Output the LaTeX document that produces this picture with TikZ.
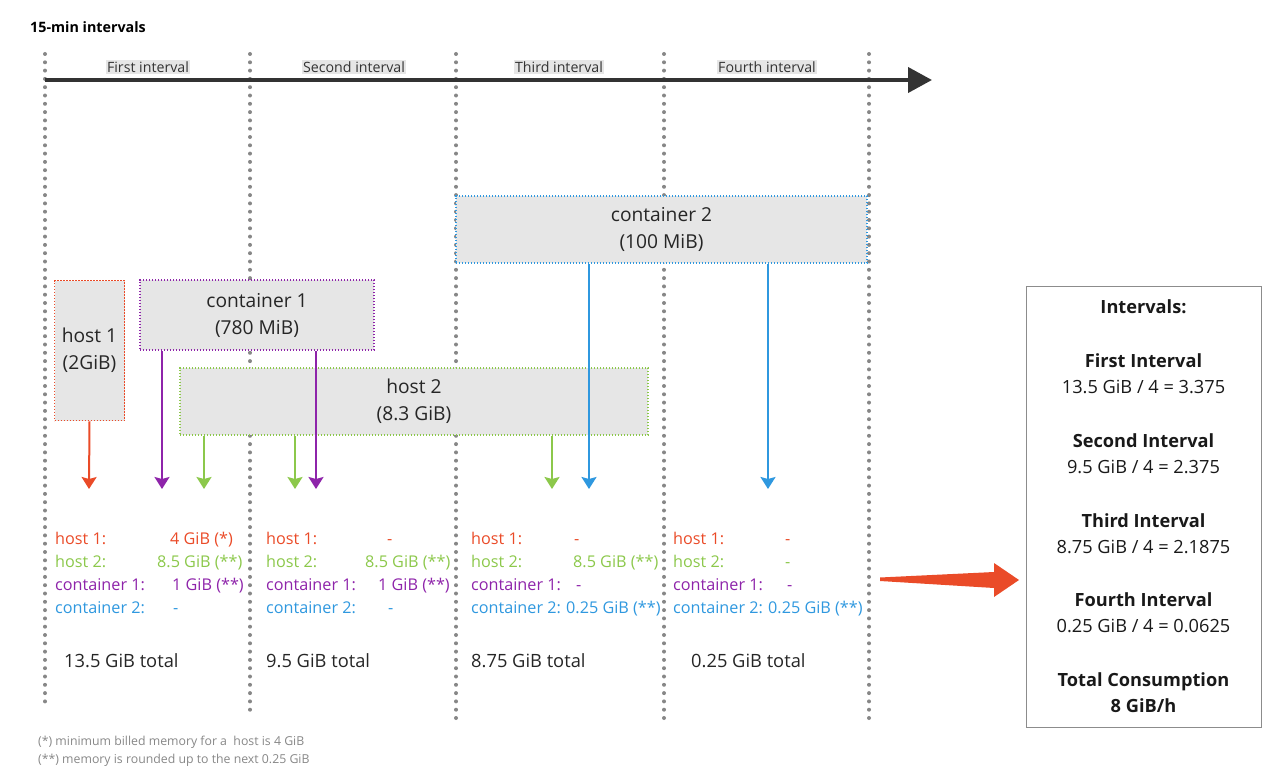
\documentclass[tikz,border=0pt]{standalone}
\usepackage{fontspec}
\setmainfont{Open Sans}
\usetikzlibrary{arrows.meta,positioning,calc}
\definecolor{hostred}{HTML}{EA4B28}
\definecolor{contpurple}{HTML}{8E24AA}
\definecolor{hostgreen}{HTML}{8CC84B}
\definecolor{contblue}{HTML}{2F98DF}
\definecolor{boxgray}{HTML}{E6E6E6}
\definecolor{dotgray}{HTML}{878787}
\tikzset{
  gridline/.style={draw=dotgray,line width=4pt,line cap=round,dash pattern=on 0pt off 8.3pt},
  timeline/.style={draw=black!80,line width=4pt,-{Triangle[length=24pt,width=25pt]}},
  ival/.style={fill=boxgray,inner sep=1.5pt,text=black!80,font=\fontsize{14.2}{16}\selectfont},
  res/.style={fill=boxgray,line width=1.8pt,dash pattern=on 1.4pt off 1.6pt,inner sep=0pt,
              align=center,text=black!85,font=\fontsize{19.2}{27}\selectfont},
  drop/.style={line width=2pt,-{Stealth[length=12pt,width=15pt,inset=2pt]}},
  row/.style={anchor=base west,inner sep=0pt,font=\fontsize{16.2}{19}\selectfont},
  total/.style={anchor=base west,inner sep=0pt,text=black!85,font=\fontsize{18.3}{21}\selectfont},
  sumline/.style={anchor=base,inner sep=0pt,text=black!90,font=\fontsize{18.2}{21}\selectfont},
  sumhead/.style={sumline,font=\fontsize{18.2}{21}\selectfont\bfseries},
  note/.style={anchor=base west,inner sep=0pt,text=dotgray,font=\fontsize{12.3}{14}\selectfont},
}

\begin{document}
\begin{tikzpicture}[x=1pt,y=-1pt]
  \useasboundingbox (0,0) rectangle (1280,784);
  \node[anchor=base west,inner sep=0pt,font=\fontsize{14.3}{16}\selectfont\bfseries] (title) at (30,33) {15-min intervals};

  % time grid
  \foreach \x/\y in {45/707,250/715,456/718,664/722,869/725}
    \draw[gridline] (\x,54) -- (\x,\y);
  \coordinate (t0) at (45,80); \coordinate (t1) at (932,80);
  \draw[timeline] (t0) -- (t1);
  \node[ival] (i1) at (148,67) {First interval};
  \node[ival] (i2) at (354,67) {Second interval};
  \node[ival] (i3) at (559,67) {Third interval};
  \node[ival] (i4) at (767,67) {Fourth interval};

  % resources
  \node[res,draw=contblue,minimum width=411,minimum height=67] (cont2) at (661.5,229.5) {container 2\\(100 MiB)};
  \node[res,draw=hostred,minimum width=70,minimum height=140] (host1) at (89.5,350.5) {host 1\\(2GiB)};
  \node[res,draw=contpurple,minimum width=234,minimum height=70] (cont1) at (257,315) {container 1\\(780 MiB)};
  \node[res,draw=hostgreen,minimum width=468,minimum height=67] (host2) at (414,401.5) {host 2\\(8.3 GiB)};

  \coordinate (e1) at (89,489); \coordinate (e2) at (162,489); \coordinate (e3) at (204,489);
  \coordinate (e4) at (295,489); \coordinate (e5) at (316,489); \coordinate (e6) at (552,489);
  \coordinate (e7) at (589,489); \coordinate (e8) at (768,489);
  \draw[drop,hostred] (host1.south) -- (e1);
  \draw[drop,contpurple] (cont1.south -| e2) -- (e2);
  \draw[drop,contpurple] (cont1.south -| e5) -- (e5);
  \draw[drop,hostgreen] (host2.south -| e3) -- (e3);
  \draw[drop,hostgreen] (host2.south -| e4) -- (e4);
  \draw[drop,hostgreen] (host2.south -| e6) -- (e6);
  \draw[drop,contblue] (cont2.south -| e7) -- (e7);
  \draw[drop,contblue] (cont2.south -| e8) -- (e8);

  % first interval
  \node[row,hostred] (a1) at (55,544) {host 1:};         \node[row,hostred] (a1v) at (170,544) {4 GiB (*)};
  \node[row,hostgreen] (a2) at (55,567) {host 2:};       \node[row,hostgreen] (a2v) at (157,567) {8.5 GiB (**)};
  \node[row,contpurple] (a3) at (55,590) {container 1:}; \node[row,contpurple] (a3v) at (172,590) {1 GiB (**)};
  \node[row,contblue] (a4) at (55,613) {container 2:};   \node[row,contblue] (a4v) at (173,613) {-};
  \node[total] (at) at (64,667) {13.5 GiB total};
  % second interval
  \node[row,hostred] (b1) at (266,544) {host 1:};         \node[row,hostred] (b1v) at (387,544) {-};
  \node[row,hostgreen] (b2) at (266,567) {host 2:};       \node[row,hostgreen] (b2v) at (365,567) {8.5 GiB (**)};
  \node[row,contpurple] (b3) at (266,590) {container 1:}; \node[row,contpurple] (b3v) at (378,590) {1 GiB (**)};
  \node[row,contblue] (b4) at (266,613) {container 2:};   \node[row,contblue] (b4v) at (388,613) {-};
  \node[total] (bt) at (266,667) {9.5 GiB total};
  % third interval
  \node[row,hostred] (c1) at (471,544) {host 1:};         \node[row,hostred] (c1v) at (574,544) {-};
  \node[row,hostgreen] (c2) at (471,567) {host 2:};       \node[row,hostgreen] (c2v) at (573,567) {8.5 GiB (**)};
  \node[row,contpurple] (c3) at (471,590) {container 1:}; \node[row,contpurple] (c3v) at (576,590) {-};
  \node[row,contblue] (c4) at (471,613) {container 2:};   \node[row,contblue] (c4v) at (566,613) {0.25 GiB (**)};
  \node[total] (ct) at (471,667) {8.75 GiB total};
  % fourth interval
  \node[row,hostred] (d1) at (673,544) {host 1:};         \node[row,hostred] (d1v) at (785,544) {-};
  \node[row,hostgreen] (d2) at (673,567) {host 2:};       \node[row,hostgreen] (d2v) at (785,567) {-};
  \node[row,contpurple] (d3) at (673,590) {container 1:}; \node[row,contpurple] (d3v) at (787,590) {-};
  \node[row,contblue] (d4) at (673,613) {container 2:};   \node[row,contblue] (d4v) at (768,613) {0.25 GiB (**)};
  \node[total] (dt) at (691,667) {0.25 GiB total};

  % summary
  \node[draw=black!45,line width=1pt,minimum width=235,minimum height=441,inner sep=0pt] (summary) at (1143.5,506.5) {};
  \coordinate (tip) at (1019,580);
  \fill[hostred] (880,577.5) -- (994,572) -- (994,563) -- (tip) -- (994,597) -- (994,588) -- (880,581) -- cycle;
  \node[sumhead] (s0) at (1143.5,313) {Intervals:};
  \node[sumhead] (s1) at (1143.5,367) {First Interval};
  \node[sumline] (s1v) at (1143.5,393) {13.5 GiB / 4 = 3.375};
  \node[sumhead] (s2) at (1143.5,447) {Second Interval};
  \node[sumline] (s2v) at (1143.5,473) {9.5 GiB / 4 = 2.375};
  \node[sumhead] (s3) at (1143.5,527) {Third Interval};
  \node[sumline] (s3v) at (1143.5,553) {8.75 GiB / 4 = 2.1875};
  \node[sumhead] (s4) at (1143.5,606) {Fourth Interval};
  \node[sumline] (s4v) at (1143.5,632) {0.25 GiB / 4 = 0.0625};
  \node[sumhead] (s5) at (1143.5,686) {Total Consumption};
  \node[sumhead] (s5v) at (1143.5,712) {8 GiB/h};

  % footnotes
  \node[note] (n1) at (38,745) {(*) minimum billed memory for a \ host is 4 GiB};
  \node[note] (n2) at (38,763) {(**) memory is rounded up to the next 0.25 GiB};
\end{tikzpicture}
\end{document}
